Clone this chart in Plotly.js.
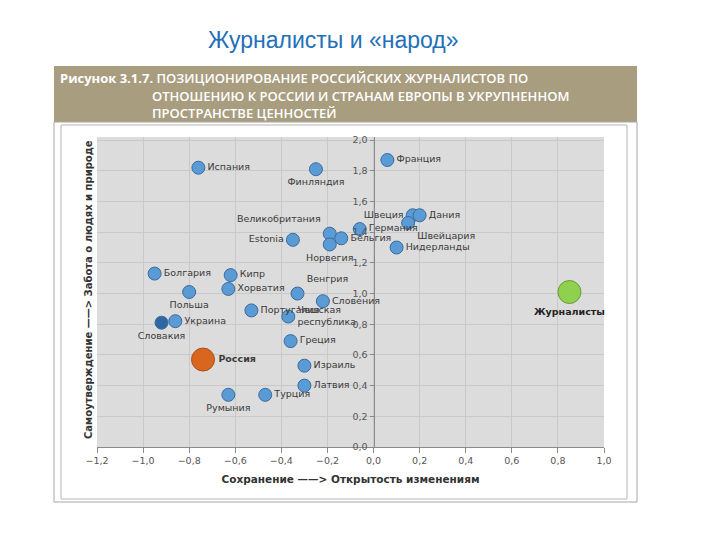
<!DOCTYPE html>
<html>
<head>
<meta charset="utf-8">
<script src="https://cdn.plot.ly/plotly-3.0.1.min.js"></script>
<style>
  body { margin: 0; background: #fff; }
  #chart { width: 720px; height: 540px; }
</style>
</head>
<body>
<div id="chart"></div>
<script>
// Countries: openness to change (x) vs self-transcendence (y)
var countries = ["Испания", "Финляндия", "Франция", "Швеция", "Дания", "Швейцария",
    "Германия", "Великобритания", "Бельгия", "Норвегия", "Estonia", "Нидерланды",
    "Болгария", "Кипр", "Хорватия", "Польша", "Венгрия", "Словения", "Португалия",
    "Чешская<br>республика", "Украина", "Словакия", "Греция", "Израиль", "Латвия",
    "Румыния", "Турция"];
var openness = [-0.76, -0.25, 0.06, 0.17, 0.20, 0.15,
    -0.06, -0.19, -0.14, -0.19, -0.35, 0.10,
    -0.95, -0.62, -0.63, -0.80, -0.33, -0.22, -0.53,
    -0.37, -0.86, -0.92, -0.36, -0.30, -0.30,
    -0.63, -0.47];
var care = [1.82, 1.81, 1.87, 1.51, 1.51, 1.46,
    1.42, 1.39, 1.36, 1.32, 1.35, 1.30,
    1.13, 1.12, 1.03, 1.01, 1.00, 0.95, 0.89,
    0.85, 0.82, 0.81, 0.69, 0.53, 0.40,
    0.34, 0.34];
var labelPos = ["middle right", "bottom center", "middle right", "middle left", "middle right", "bottom right",
    "middle right", "top left", "middle right", "bottom center", "middle left", "middle right",
    "middle right", "middle right", "middle right", "bottom center", "top right", "middle right", "middle right",
    "middle right", "middle right", "bottom center", "middle right", "middle right", "middle right",
    "bottom center", "middle right"];

var russia = {name: "Россия", x: -0.74, y: 0.57};
var journalists = {name: "Журналисты", x: 0.85, y: 1.01};

// pixel -> paper helpers for the decorations around the plot
var L = 97, R = 116, T = 137, B = 93;
function px(v) { return (v - L) / (720 - L - R); }
function py(v) { return (540 - B - v) / (540 - T - B); }

var labelFont = {family: "DejaVu Sans", size: 9.5, color: "#3a3a3a"};

var countryTrace = {
    x: openness, y: care, text: countries,
    type: "scatter", mode: "markers+text",
    textposition: labelPos, textfont: labelFont,
    marker: {
        size: 13,
        color: countries.map(c => c == "Словакия" ? "#2f67a3" : "#5b9bd5"),
        line: {color: "#3b6b9e", width: 1}
    },
    hoverinfo: "text", cliponaxis: false
};
var russiaTrace = {
    x: [russia.x], y: [russia.y], text: ["<b>" + russia.name + "</b>"],
    type: "scatter", mode: "markers+text", textposition: "middle right",
    textfont: labelFont,
    marker: {size: 23, color: "#d9661f", line: {color: "#a8501a", width: 1}},
    cliponaxis: false
};
var journTrace = {
    x: [journalists.x], y: [journalists.y], text: ["<b>" + journalists.name + "</b>"],
    type: "scatter", mode: "markers+text", textposition: "bottom center",
    textfont: {family: "DejaVu Sans", size: 9.5, color: "#222"},
    marker: {size: 23, color: "#8fd14f", line: {color: "#6a9a3a", width: 1}},
    cliponaxis: false
};

var tickFont = {family: "DejaVu Sans", size: 9.5, color: "#555"};
var headFont = {family: "Open Sans", size: 13, color: "#fff", weight: 600};

var layout = {
    width: 720, height: 540,
    margin: {l: L, r: R, t: T, b: B},
    paper_bgcolor: "#fff",
    plot_bgcolor: "#dcdcdc",
    separators: ", ",
    showlegend: false,
    xaxis: {
        range: [-1.2, 1.0], dtick: 0.2, tick0: -1.2, tickformat: ".1f",
        showgrid: true, gridcolor: "#c9c9c9", zeroline: false,
        showline: true, linecolor: "#8a8a8a",
        ticks: "outside", ticklen: 5, tickcolor: "#8a8a8a",
        tickfont: tickFont,
        title: {text: "<b>Сохранение ——> Открытость изменениям</b>",
            font: {family: "DejaVu Sans", size: 10.5, color: "#333"}, standoff: 10}
    },
    yaxis: {
        range: [0, 2.02], dtick: 0.2, tickformat: ".1f",
        anchor: "free", position: 1.2 / 2.2, side: "left",
        showgrid: true, gridcolor: "#c9c9c9", zeroline: false,
        showline: true, linecolor: "#8a8a8a",
        ticks: "outside", ticklen: 4, tickcolor: "#8a8a8a",
        tickfont: tickFont
    },
    shapes: [
        {type: "rect", xref: "paper", yref: "paper",
            x0: px(54), x1: px(637), y0: py(66), y1: py(122),
            fillcolor: "#a99d7f", line: {width: 0}, layer: "below"},
        {type: "rect", xref: "paper", yref: "paper",
            x0: px(54), x1: px(637), y0: py(122), y1: py(502),
            line: {color: "#a6a6a6", width: 1}, layer: "below"},
        {type: "rect", xref: "paper", yref: "paper",
            x0: px(61), x1: px(627), y0: py(125), y1: py(499),
            line: {color: "#b5b5b5", width: 1}, layer: "below"}
    ],
    annotations: [
        {text: "Журналисты и «народ»", xref: "paper", yref: "paper",
            x: px(333), y: py(40), xanchor: "center", yanchor: "middle", showarrow: false,
            font: {family: "Liberation Sans", size: 23, color: "#2270b9"}},
        {text: "<b>Рисунок 3.1.7.</b> ПОЗИЦИОНИРОВАНИЕ РОССИЙСКИХ ЖУРНАЛИСТОВ ПО",
            xref: "paper", yref: "paper", x: px(58), y: py(78), xanchor: "left", yanchor: "middle",
            showarrow: false, font: headFont},
        {text: "ОТНОШЕНИЮ К РОССИИ И СТРАНАМ ЕВРОПЫ В УКРУПНЕННОМ",
            xref: "paper", yref: "paper", x: px(150), y: py(96), xanchor: "left", yanchor: "middle",
            showarrow: false, font: headFont},
        {text: "ПРОСТРАНСТВЕ ЦЕННОСТЕЙ",
            xref: "paper", yref: "paper", x: px(150), y: py(113), xanchor: "left", yanchor: "middle",
            showarrow: false, font: headFont},
        {text: "<b>Самоутверждение ——> Забота о людях и природе</b>",
            xref: "paper", yref: "paper", x: px(88), y: py(290), textangle: -90,
            xanchor: "center", yanchor: "middle",
            showarrow: false, font: {family: "DejaVu Sans", size: 10, color: "#333"}}
    ]
};

Plotly.newPlot("chart", [countryTrace, russiaTrace, journTrace], layout, {displayModeBar: false, staticPlot: true});
</script>
</body>
</html>
